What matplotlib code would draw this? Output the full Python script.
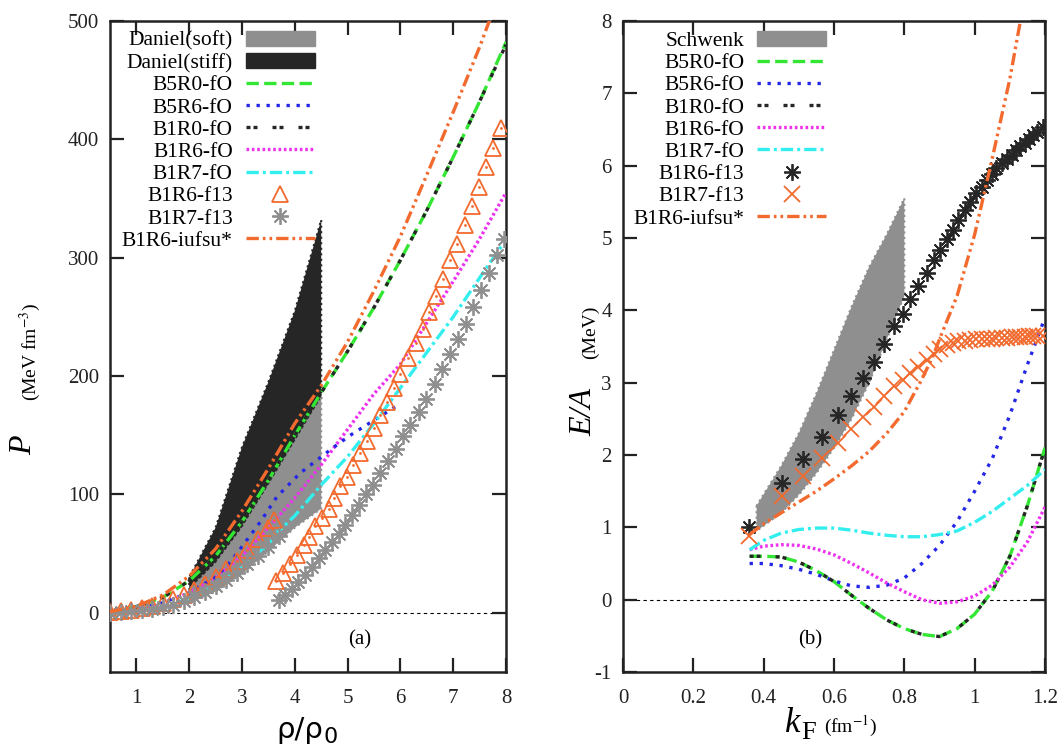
import matplotlib
matplotlib.use('Agg')
import matplotlib.pyplot as plt
from matplotlib.patches import Patch
from matplotlib.lines import Line2D

plt.rcParams['font.family'] = ['Liberation Serif', 'DejaVu Serif']
plt.rcParams['mathtext.fontset'] = 'stix'
plt.rcParams['axes.unicode_minus'] = False

# colours
GREEN = '#33e633'
BLUE = '#2626e6'
BLACK = '#262626'
MAGENTA = '#ee33ee'
CYAN = '#33eeee'
ORANGE = '#f26a2e'
GREY = '#8f8f8f'

# ---------------- panel (a): P vs rho/rho0 ----------------
band_rho = [2.0, 2.5, 3.0, 3.5, 4.0, 4.5]
soft_lo = [8, 18, 33, 52, 72, 88]
soft_hi = [20, 42, 72, 108, 145, 182]
stiff_lo = [14, 32, 58, 90, 130, 180]
stiff_hi = [30, 72, 140, 195, 255, 332]

rho_fo = [0.5, 1.0, 1.5, 2.0, 2.5, 3.0, 3.5, 4.0, 4.5, 5.0, 5.5, 6.0, 6.5, 7.0, 7.5, 8.0]
p_b5r0 = [0.5, 5, 13, 27, 48, 77, 112, 150, 186, 221, 258, 298, 340, 385, 432, 482]
p_b1r0 = [0.5, 5, 13, 27, 48, 77, 112, 150, 186, 221, 258, 298, 340, 385, 432, 480]
p_b1r6 = [0.5, 3, 8.5, 17, 30, 48, 72, 97, 125, 155, 185, 210, 245, 280, 316, 355]

rho_b5r6 = [0.5, 1.0, 1.5, 2.0, 2.5, 2.8, 3.0, 3.35, 3.66, 4.1, 4.42, 4.74, 5.05, 5.37, 5.9]
p_b5r6 = [0.5, 3, 8.5, 17, 30, 44, 56, 77, 98, 118, 129, 140, 150, 159, 174]

rho_b1r7 = [0.5, 1.0, 1.5, 2.0, 2.5, 3.0, 3.5, 3.67, 4.0, 4.5, 5.0, 5.5, 6.0, 6.5, 7.0, 7.5, 7.95]
p_b1r7 = [0.3, 1.5, 5, 12, 23, 38, 58, 68, 82, 108, 132, 160, 190, 220, 250, 283, 312]

rho_iufsu = [0.5, 1.0, 1.5, 2.0, 2.5, 3.0, 3.5, 4.0, 4.5, 5.0, 5.5, 6.0, 6.5, 7.0, 7.5, 7.7]
p_iufsu = [1, 5.5, 15, 31, 54, 86, 122, 160, 192, 229, 272, 318, 370, 423, 478, 502]

# B1R6-f13 (triangles), low and high density branches
rho_tri_lo = [0.5, 0.7, 0.9, 1.1, 1.3, 1.5, 1.7, 1.9, 2.1, 2.3, 2.5, 2.7, 2.9, 3.1, 3.3, 3.5, 3.6]
p_tri_lo = [0.5, 1.5, 2.5, 4, 6, 8.5, 11.5, 15, 19, 24, 30, 37, 44, 53, 62, 72, 78]
rho_tri_hi = [3.65, 3.78, 3.91, 4.04, 4.17, 4.26, 4.39, 4.52, 4.64, 4.74, 4.86, 4.99, 5.11,
              5.24, 5.37, 5.50, 5.62, 5.75, 5.88, 6.00, 6.14, 6.29, 6.42, 6.54, 6.67, 6.81,
              6.94, 7.08, 7.22, 7.36, 7.49, 7.63, 7.76, 7.90]
p_tri_hi = [27, 34, 41, 49, 57, 64, 73, 80, 88, 97, 107, 115, 125, 135, 145, 156, 167, 178,
            190, 202, 215, 228, 240, 254, 268, 282, 298, 312, 328, 344, 360, 377, 393, 410]

# B1R7-f13 (grey asterisks), low and high density branches
rho_ast_lo = [0.5, 0.7, 0.9, 1.1, 1.3, 1.5, 1.7, 1.9, 2.1, 2.3, 2.5, 2.7, 2.9, 3.1, 3.3, 3.5, 3.7]
p_ast_lo = [0, 0.5, 1.2, 2.2, 3.5, 5, 7, 10, 13.5, 18, 23, 28, 34, 41, 48, 56, 65]
rho_ast_hi = [3.70, 3.82, 3.95, 4.07, 4.20, 4.33, 4.45, 4.58, 4.71, 4.83, 4.96, 5.09, 5.21,
              5.34, 5.48, 5.62, 5.76, 5.91, 6.05, 6.19, 6.35, 6.49, 6.65, 6.79, 6.94, 7.09,
              7.24, 7.38, 7.52, 7.67, 7.83, 7.96]
p_ast_hi = [11, 15, 20, 26, 32, 39, 46, 53, 60, 67, 74, 83, 91, 100, 108, 118, 128, 138,
            149, 159, 170, 181, 193, 206, 219, 231, 244, 258, 273, 287, 302, 316]

# ---------------- panel (b): E/A vs kF ----------------
schw_k = [0.38, 0.45, 0.5, 0.55, 0.6, 0.65, 0.7, 0.75, 0.8]
schw_lo = [0.95, 1.2, 1.45, 1.75, 2.1, 2.5, 3.0, 3.6, 4.2]
schw_hi = [1.3, 1.85, 2.3, 2.85, 3.45, 4.05, 4.6, 5.05, 5.55]

kf = [0.36, 0.4, 0.45, 0.5, 0.55, 0.6, 0.65, 0.7, 0.75, 0.8, 0.85, 0.9, 0.95, 1.0, 1.05, 1.1, 1.15, 1.2]
e_b5r0 = [0.6, 0.6, 0.59, 0.52, 0.4, 0.25, 0.06, -0.12, -0.28, -0.4, -0.48, -0.51, -0.4, -0.2, 0.12, 0.6, 1.3, 2.1]
e_b1r0 = [0.6, 0.6, 0.59, 0.52, 0.4, 0.25, 0.06, -0.12, -0.28, -0.4, -0.48, -0.51, -0.4, -0.2, 0.12, 0.6, 1.3, 2.1]
e_b5r6 = [0.5, 0.5, 0.47, 0.42, 0.35, 0.26, 0.19, 0.17, 0.2, 0.3, 0.5, 0.75, 1.08, 1.5, 1.95, 2.55, 3.25, 3.9]
e_b1r6 = [0.69, 0.74, 0.76, 0.75, 0.7, 0.62, 0.5, 0.37, 0.23, 0.11, 0.0, -0.05, -0.03, 0.05, 0.2, 0.45, 0.8, 1.28]
e_b1r7 = [0.69, 0.82, 0.92, 0.97, 0.99, 0.99, 0.96, 0.92, 0.89, 0.87, 0.87, 0.9, 0.95, 1.07, 1.22, 1.4, 1.58, 1.8]

k_iufsu = [0.36, 0.4, 0.45, 0.5, 0.55, 0.6, 0.65, 0.7, 0.75, 0.8, 0.85, 0.88, 0.9, 0.95, 1.0, 1.05, 1.1, 1.13]
e_iufsu = [0.9, 1.05, 1.2, 1.35, 1.5, 1.67, 1.85, 2.05, 2.3, 2.6, 3.05, 3.35, 3.6, 4.2, 5.05, 6.1, 7.2, 8.0]

k_f13 = [0.357, 0.451, 0.513, 0.566, 0.610, 0.649, 0.682, 0.715, 0.743, 0.770, 0.795, 0.816,
         0.840, 0.864, 0.885, 0.902, 0.921, 0.938, 0.954, 0.973, 0.987, 1.004, 1.020, 1.034,
         1.048, 1.062, 1.077, 1.091, 1.105, 1.117, 1.129, 1.143, 1.155, 1.167, 1.178, 1.195]
e_b1r6_f13 = [1.01, 1.61, 1.94, 2.25, 2.55, 2.82, 3.06, 3.29, 3.54, 3.78, 3.95, 4.15, 4.34,
              4.51, 4.69, 4.84, 4.98, 5.11, 5.25, 5.39, 5.50, 5.62, 5.71, 5.80, 5.89, 5.97,
              6.04, 6.09, 6.15, 6.21, 6.27, 6.32, 6.37, 6.43, 6.47, 6.54]
e_b1r7_f13 = [0.88, 1.43, 1.71, 1.96, 2.16, 2.36, 2.53, 2.67, 2.81, 2.95, 3.04, 3.13, 3.22,
              3.32, 3.40, 3.47, 3.52, 3.55, 3.57, 3.58, 3.59, 3.60, 3.60, 3.61, 3.61, 3.62,
              3.62, 3.62, 3.63, 3.63, 3.63, 3.63, 3.64, 3.64, 3.64, 3.64]

# line styles (dash patterns in units of line width)
LW = 2.4
DASH_GREEN = (0, (3.7, 1.6))
DOT_BLUE = (0, (1, 2))
DASH_BLACK = (0, (1.2, 0.9, 1.2, 4.5))
DOT_MAG = (0, (0.8, 0.8))
DASHDOT_CYAN = (0, (3.7, 1.2, 0.9, 1.2))
DASHDOTDOT_OR = (0, (3.7, 1.2, 0.8, 1.2, 0.8, 1.2))
AST = (8, 2, 0)

fig = plt.figure(figsize=(10.64, 7.45), dpi=100)
axa = fig.add_axes([110 / 1064, 1 - 672 / 745, 396 / 1064, 651 / 745])
axb = fig.add_axes([623 / 1064, 1 - 672 / 745, 422 / 1064, 651 / 745])

# ---- panel (a)
axa.axhline(0, color='k', lw=0.8, ls=(0, (3, 3)), zorder=1)
axa.fill_between(band_rho, stiff_lo, stiff_hi, color=BLACK, lw=1.5, ls=':', ec=BLACK, zorder=2)
axa.fill_between(band_rho, soft_lo, soft_hi, color=GREY, lw=1.5, ls=':', ec=GREY, zorder=2)
axa.plot(rho_fo, p_b1r6, color=MAGENTA, lw=LW, ls=DOT_MAG, zorder=3)
axa.plot(rho_b5r6, p_b5r6, color=BLUE, lw=LW, ls=DOT_BLUE, zorder=3)
axa.plot(rho_b1r7, p_b1r7, color=CYAN, lw=LW, ls=DASHDOT_CYAN, zorder=3)
axa.plot(rho_fo, p_b5r0, color=GREEN, lw=LW, ls=DASH_GREEN, zorder=3)
axa.plot(rho_fo, p_b1r0, color=BLACK, lw=LW, ls=DASH_BLACK, zorder=3)
for xs, ys in [(rho_tri_lo, p_tri_lo), (rho_tri_hi, p_tri_hi)]:
    axa.plot(xs, ys, ls='none', marker='^', ms=11, mfc='none', mec=ORANGE, mew=1.3, zorder=4)
    axa.plot(xs, ys, ls='none', marker='.', ms=2, color=ORANGE, zorder=4)
for xs, ys in [(rho_ast_lo, p_ast_lo), (rho_ast_hi, p_ast_hi)]:
    axa.plot(xs, ys, ls='none', marker=AST, ms=12, mec=GREY, mew=1.3, zorder=4)
axa.plot(rho_iufsu, p_iufsu, color=ORANGE, lw=LW, ls=DASHDOTDOT_OR, zorder=5)

axa.set_xlim(0.5, 8)
axa.set_ylim(-50, 500)
axa.set_xticks(range(1, 9))
axa.set_yticks(range(0, 501, 100))

handles_a = [
    Patch(color=GREY), Patch(color=BLACK),
    Line2D([], [], color=GREEN, lw=LW, ls=DASH_GREEN),
    Line2D([], [], color=BLUE, lw=LW, ls=DOT_BLUE),
    Line2D([], [], color=BLACK, lw=LW, ls=DASH_BLACK),
    Line2D([], [], color=MAGENTA, lw=LW, ls=DOT_MAG),
    Line2D([], [], color=CYAN, lw=LW, ls=DASHDOT_CYAN),
    Line2D([], [], ls='none', marker='^', ms=11, mfc='none', mec=ORANGE, mew=1.3),
    Line2D([], [], ls='none', marker=AST, ms=12, mec=GREY, mew=1.3),
    Line2D([], [], color=ORANGE, lw=LW, ls=DASHDOTDOT_OR),
]
labels_a = ['Daniel(soft)', 'Daniel(stiff)', 'B5R0-fO', 'B5R6-fO', 'B1R0-fO', 'B1R6-fO',
            'B1R7-fO', 'B1R6-f13', 'B1R7-f13', 'B1R6-iufsu*']
axa.legend(handles_a, labels_a, loc='upper left', bbox_to_anchor=(0.03, 0.985),
           frameon=False, markerfirst=False, fontsize=15.5, labelspacing=0.1,
           handlelength=3.2, handletextpad=0.6, borderpad=0, borderaxespad=0, numpoints=1)
axa.text(0.63, 0.049, '(a)', transform=axa.transAxes, ha='center', va='center', fontsize=15)

# ---- panel (b)
axb.axhline(0, color='k', lw=0.8, ls=(0, (3, 3)), zorder=1)
axb.fill_between(schw_k, schw_lo, schw_hi, color=GREY, lw=1.5, ls=':', ec=GREY, zorder=2)
axb.plot(kf, e_b5r0, color=GREEN, lw=LW, ls=DASH_GREEN, zorder=3)
axb.plot(kf, e_b5r6, color=BLUE, lw=LW, ls=DOT_BLUE, zorder=3)
axb.plot(kf, e_b1r0, color=BLACK, lw=LW, ls=DASH_BLACK, zorder=3)
axb.plot(kf, e_b1r6, color=MAGENTA, lw=LW, ls=DOT_MAG, zorder=3)
axb.plot(kf, e_b1r7, color=CYAN, lw=LW, ls=DASHDOT_CYAN, zorder=3)
axb.plot(k_f13, e_b1r6_f13, ls='none', marker=AST, ms=12, mec=BLACK, mew=1.3, zorder=4)
axb.plot(k_f13, e_b1r7_f13, ls='none', marker='x', ms=11, mec=ORANGE, mew=1.3, zorder=4)
axb.plot(k_iufsu, e_iufsu, color=ORANGE, lw=LW, ls=DASHDOTDOT_OR, zorder=5)

axb.set_xlim(0, 1.2)
axb.set_ylim(-1, 8)
axb.set_xticks([0, 0.2, 0.4, 0.6, 0.8, 1.0, 1.2])
axb.set_xticklabels(['0', '0.2', '0.4', '0.6', '0.8', '1', '1.2'])
axb.set_yticks(range(-1, 9))

handles_b = [
    Patch(color=GREY),
    Line2D([], [], color=GREEN, lw=LW, ls=DASH_GREEN),
    Line2D([], [], color=BLUE, lw=LW, ls=DOT_BLUE),
    Line2D([], [], color=BLACK, lw=LW, ls=DASH_BLACK),
    Line2D([], [], color=MAGENTA, lw=LW, ls=DOT_MAG),
    Line2D([], [], color=CYAN, lw=LW, ls=DASHDOT_CYAN),
    Line2D([], [], ls='none', marker=AST, ms=12, mec=BLACK, mew=1.3),
    Line2D([], [], ls='none', marker='x', ms=11, mec=ORANGE, mew=1.3),
    Line2D([], [], color=ORANGE, lw=LW, ls=DASHDOTDOT_OR),
]
labels_b = ['Schwenk', 'B5R0-fO', 'B5R6-fO', 'B1R0-fO', 'B1R6-fO', 'B1R7-fO',
            'B1R6-f13', 'B1R7-f13', 'B1R6-iufsu*']
axb.legend(handles_b, labels_b, loc='upper left', bbox_to_anchor=(0.025, 0.985),
           frameon=False, markerfirst=False, fontsize=15.5, labelspacing=0.1,
           handlelength=3.2, handletextpad=0.6, borderpad=0, borderaxespad=0, numpoints=1)
axb.text(0.443, 0.049, '(b)', transform=axb.transAxes, ha='center', va='center', fontsize=15)

for ax in (axa, axb):
    ax.tick_params(direction='in', length=10, width=1.6, top=True, right=True,
                   labelsize=15, colors='#222222')
    ax.tick_params(axis='x', pad=12)
    ax.tick_params(axis='y', pad=8)
    for s in ax.spines.values():
        s.set_linewidth(1.8)
        s.set_color('#222222')

# axis labels
fig.text(24 / 1064, 1 - 445 / 745, 'P', style='italic', fontsize=23, rotation=90,
         ha='center', va='center')
fig.text(30 / 1064, 1 - 352 / 745, r'(MeV fm$^{-3}$)', fontsize=14, rotation=90,
         ha='center', va='center')
fig.text(300 / 1064, 1 - 730 / 745, 'ρ/ρ', family='DejaVu Sans', fontsize=21,
         ha='center', va='center')
fig.text(331 / 1064, 1 - 737 / 745, '0', family='DejaVu Sans', fontsize=16,
         ha='center', va='center')

fig.text(584 / 1064, 1 - 412 / 745, 'E/A', style='italic', fontsize=23, rotation=90,
         ha='center', va='center')
fig.text(590 / 1064, 1 - 332 / 745, '(MeV)', fontsize=14, rotation=90,
         ha='center', va='center')
fig.text(793 / 1064, 1 - 724 / 745, 'k', style='italic', fontsize=25, ha='center', va='center')
fig.text(809 / 1064, 1 - 733 / 745, 'F', fontsize=19, ha='center', va='center')
fig.text(851 / 1064, 1 - 726 / 745, r'(fm$^{-1}$)', fontsize=14, ha='center', va='center')

fig.savefig('out.png', dpi=100)
